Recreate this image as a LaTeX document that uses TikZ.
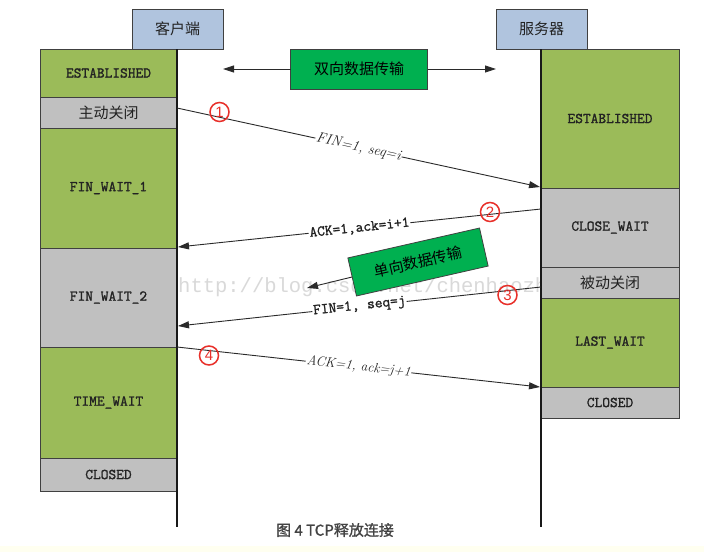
\documentclass[tikz,border=0pt]{standalone}
\usepackage{fontspec}
\usetikzlibrary{arrows.meta}
\newfontfamily\cjk{Noto Sans CJK SC}
\newfontfamily\cjkcap[FakeBold=1.2]{Noto Sans CJK SC}
\newfontfamily\monob[FakeBold=1.4]{Latin Modern Mono}
\newfontfamily\wmfont{Liberation Mono}
\newfontfamily\numfont{Liberation Sans}
\definecolor{stgreen}{HTML}{9BBB59}
\definecolor{stgray}{HTML}{C0C0C0}
\definecolor{hdrblue}{HTML}{B0C4DE}
\definecolor{datagreen}{HTML}{00B050}
\definecolor{boxline}{HTML}{404040}
\definecolor{txt}{HTML}{222222}
\definecolor{arrc}{HTML}{2A2A2A}
\definecolor{wmc}{HTML}{D9D9D9}
\definecolor{stripc}{HTML}{FFFFF0}
\definecolor{numred}{HTML}{E8302A}
\begin{document}
\begin{tikzpicture}[x=1pt,y=-1pt,
  box/.style={draw=boxline, line width=0.8pt, inner sep=0pt, outer sep=0pt, text=txt},
  latinlbl/.style={font=\monob\fontsize{15}{15}\selectfont},
  cjklbl/.style={font=\cjk\fontsize{15}{15}\selectfont},
  gstate/.style={box, fill=stgreen, latinlbl},
  gystate/.style={box, fill=stgray, latinlbl},
  gycjk/.style={box, fill=stgray, cjklbl},
  hdr/.style={box, fill=hdrblue, cjklbl, minimum width=91pt, minimum height=40pt},
  databox/.style={box, fill=datagreen, cjklbl, text=black},
  arr/.style={draw=arrc, line width=0.9pt, -{Triangle[length=11pt,width=7pt]}},
  lifeline/.style={draw=black!90, line width=2.4pt},
  itlbl/.style={sloped, fill=white, inner sep=1pt, text=txt, font=\fontsize{14.5}{14.5}\selectfont\itshape},
  ttlbl/.style={sloped, fill=white, inner sep=1pt, text=txt, font=\monob\fontsize{15}{15}\selectfont},
  numc/.style={circle, draw=numred, line width=1.5pt, text=numred, inner sep=0pt, minimum size=19pt, font=\numfont\fontsize{15}{15}\selectfont}
]
\useasboundingbox (0,0) rectangle (704,552);
\fill[white] (0,0) rectangle (704,552);
\fill[stripc] (0,546) rectangle (704,552);

% watermark
\node[anchor=base west, inner sep=0pt, text=wmc, font=\wmfont\fontsize{20.5}{20.5}\selectfont] (wm) at (178,292) {http://blog.csdn.net/chenhaozhi};

% headers
\node[hdr] (chdr) at (177.5,29) {客户端};
\node[hdr] (shdr) at (541.5,29) {服务器};

% bidirectional data box
\node[databox, minimum width=137pt, minimum height=40pt] (bi) at (359,69) {双向数据传输};
\coordinate (biL) at (223,69);
\coordinate (biR) at (496,69);
\draw[arr] (bi.west) -- (biL);
\draw[arr] (bi.east) -- (biR);

% client column
\node[gstate, minimum width=137pt, minimum height=48pt] (cEst) at (108.5,73) {ESTABLISHED};
\node[gycjk, minimum width=137pt, minimum height=31pt] (cAct) at (108.5,112.5) {主动关闭};
\node[gstate, minimum width=137pt, minimum height=120pt] (cFW1) at (108.5,188) {FIN\_WAIT\_1};
\node[gystate, minimum width=137pt, minimum height=99pt] (cFW2) at (108.5,297.5) {FIN\_WAIT\_2};
\node[gstate, minimum width=137pt, minimum height=111pt] (cTW) at (108.5,402.5) {TIME\_WAIT};
\node[gystate, minimum width=137pt, minimum height=33pt] (cCl) at (108.5,474.5) {CLOSED};

% server column
\node[gstate, minimum width=138pt, minimum height=139pt] (sEst) at (610,118.5) {ESTABLISHED};
\node[gystate, minimum width=138pt, minimum height=79pt] (sCW) at (610,227.5) {CLOSE\_WAIT};
\node[gycjk, minimum width=138pt, minimum height=31pt] (sPas) at (610,282.5) {被动关闭};
\node[gstate, minimum width=138pt, minimum height=89pt] (sLW) at (610,342.5) {LAST\_WAIT};
\node[gystate, minimum width=138pt, minimum height=31pt] (sCl) at (610,402.5) {CLOSED};

% lifelines
\coordinate (cEnd) at (177,527);
\coordinate (sEnd) at (541,527);
\draw[lifeline] (cEst.north east) -- (cEnd);
\draw[lifeline] (sEst.north west) -- (sEnd);

% message endpoints
\coordinate (m1s) at (177,108);  \coordinate (m1e) at (540,187);
\coordinate (m2s) at (541,209);  \coordinate (m2e) at (178,247);
\coordinate (m3s) at (541,287);  \coordinate (m3e) at (178,326);
\coordinate (m4s) at (177,347);  \coordinate (m4e) at (540,387);

\draw[arr] (m1s) -- node[itlbl] {FIN=1, seq=i} (m1e);
\draw[arr] (m2s) -- node[ttlbl] {ACK=1,ack=i+1} (m2e);
\draw[arr] (m3s) -- node[ttlbl] {FIN=1, seq=j} (m3e);
\draw[arr] (m4s) -- node[itlbl, font=\fontsize{13.5}{13.5}\selectfont\itshape] {ACK=1, ack=j+1} (m4e);

% circled numbers
\node[numc] (n1) at (219.5,112) {1};
\node[numc] (n2) at (490,212) {2};
\node[numc] (n3) at (507.5,295) {3};
\node[numc] (n4) at (209,355.5) {4};

% one-way data box
\node[databox, minimum width=135pt, minimum height=39pt, rotate=12.8] (uni) at (418,262) {单向数据传输};
\coordinate (uniT) at (307,288);
\draw[arr] (uni.west) -- (uniT);

% caption
\node[font=\cjkcap\fontsize{15}{15}\selectfont, text=txt!85] (cap) at (335,530) {图 4 TCP释放连接};
\end{tikzpicture}
\end{document}
